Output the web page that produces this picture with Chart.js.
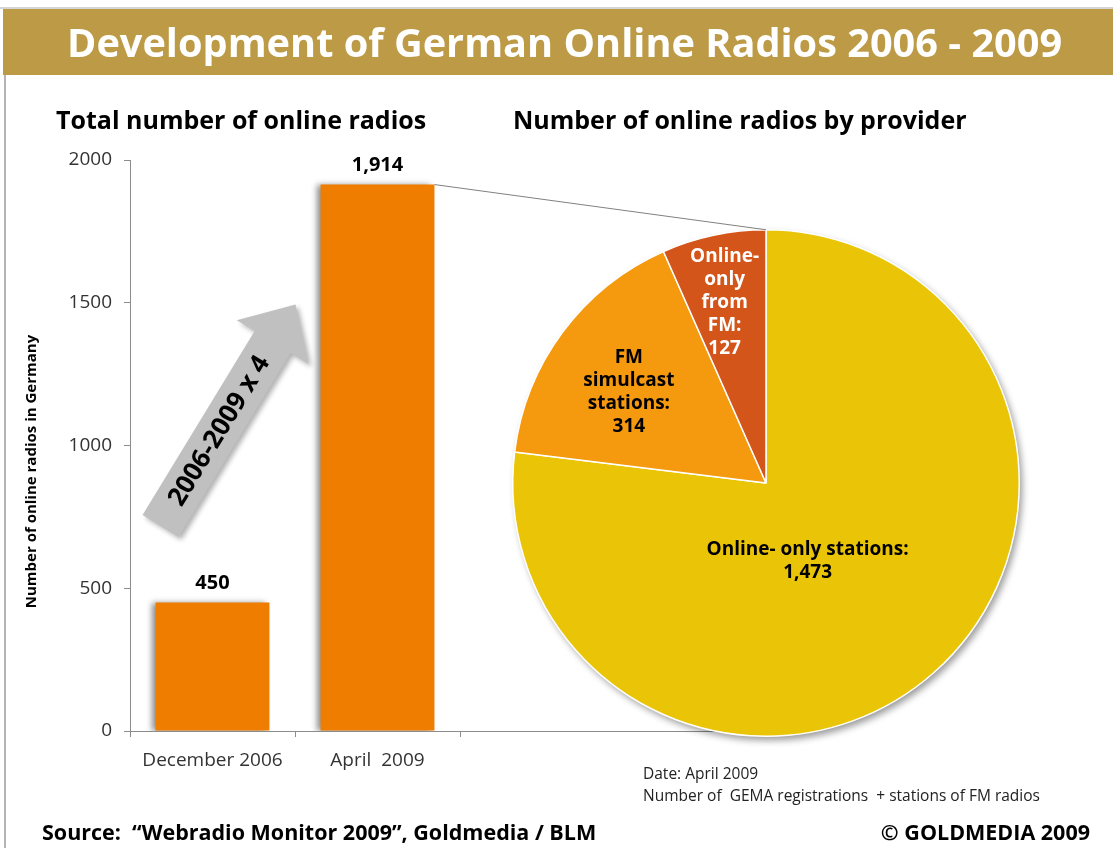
<!DOCTYPE html>
<html>
<head>
<meta charset="utf-8">
<script src="https://cdn.jsdelivr.net/npm/chart.js@4.4.1/dist/chart.umd.min.js"></script>
<style>
  body { margin: 0; background: #fff; font-family: "Open Sans", sans-serif; }
  #wrap { position: relative; width: 1113px; height: 848px; overflow: hidden; }
  canvas { position: absolute; left: 0; top: 0; }
  .txt { position: absolute; white-space: pre; z-index: 5; color: #000; }
  #topline { position: absolute; left: 0; top: 7px; width: 1113px; height: 2px; background: #d4d4d4; }
  #banner { position: absolute; left: 3px; top: 9px; width: 1110px; height: 66px; background: #bd9a45; }
  #title { left: 67px; top: 14px; font-size: 39.7px; font-weight: 700; color: #fff; line-height: 56px; }
  #frame { position: absolute; left: 4px; top: 75px; width: 2px; height: 773px; background: #b4b4b4; }
  .sub { font-size: 25px; font-weight: 700; line-height: 30px; top: 104px; }
  .note { font-size: 15.5px; line-height: 20px; color: #222; left: 643px; }
  .foot { font-size: 21.5px; font-weight: 700; line-height: 26px; top: 819px; }
</style>
</head>
<body>
<div id="wrap">
  <div id="topline"></div>
  <div id="banner"></div>
  <div id="frame"></div>
  <div class="txt" id="title">Development of German Online Radios 2006 - 2009</div>
  <div class="txt sub" style="left:56px">Total number of online radios</div>
  <div class="txt sub" style="left:513px">Number of online radios by provider</div>
  <div class="txt note" style="top:763px">Date: April 2009</div>
  <div class="txt note" style="top:785px">Number of  GEMA registrations  + stations of FM radios</div>
  <div class="txt foot" style="left:42px">Source:  “Webradio Monitor 2009”, Goldmedia / BLM</div>
  <div class="txt foot" style="right:23px">© GOLDMEDIA 2009</div>
  <canvas id="barChart" width="1113" height="848"></canvas>
  <canvas id="pieChart" width="1113" height="848"></canvas>
</div>
<script>
// values
const categories = ["December 2006", "April  2009"]
const totalRadios = [450, 1914]
const yTicks = [0, 500, 1000, 1500, 2000]
const yTitle = "Number of online radios in Germany"
const providers = ["Online- only stations", "FM simulcast stations", "Online-only from FM"]
const providerValues = [1473, 314, 127]
const providerLabels = [
  ["Online- only stations:", "1,473"],
  ["FM", "simulcast", "stations:", "314"],
  ["Online-", "only", "from", "FM:", "127"],
]
const growthLabel = "2006-2009 x 4"

const FONT = "'Open Sans', sans-serif"
const axisColor = "#8c8c8c"

// shadow on the bars + value labels + the grey growth arrow
const barDecor = {
  id: "barDecor",
  beforeDatasetsDraw(chart) {
    const ctx = chart.ctx
    ctx.save()
    ctx.shadowColor = "rgba(0,0,0,0.45)"
    ctx.shadowBlur = 6
    ctx.shadowOffsetX = -4
    ctx.shadowOffsetY = 0
  },
  afterDatasetsDraw(chart) {
    const ctx = chart.ctx
    ctx.restore()
    const meta = chart.getDatasetMeta(0)
    const area = chart.chartArea
    ctx.save()
    ctx.font = "bold 20px " + FONT
    ctx.fillStyle = "#000"
    ctx.textAlign = "center"
    ctx.textBaseline = "middle"
    meta.data.forEach((bar, i) => {
      ctx.fillText(totalRadios[i].toLocaleString("en-US"), bar.x, bar.y - 19)
    })
    ctx.restore()

    // y axis title
    ctx.save()
    ctx.translate(32, (area.top + area.bottom) / 2 + 26)
    ctx.rotate(-Math.PI / 2)
    ctx.font = "bold 15px " + FONT
    ctx.fillStyle = "#000"
    ctx.textAlign = "center"
    ctx.textBaseline = "middle"
    ctx.fillText(yTitle, 0, 0)
    ctx.restore()

    // x axis line runs on under the pie
    ctx.save()
    ctx.strokeStyle = axisColor
    ctx.lineWidth = 1
    ctx.beginPath()
    ctx.moveTo(area.right, area.bottom + 0.5)
    ctx.lineTo(760, area.bottom + 0.5)
    ctx.stroke()
    ctx.restore()

    // arrow
    const ys = chart.scales.y
    const b0 = meta.data[0], b1 = meta.data[1]
    const tx = b0.x - 52, ty = ys.getPixelForValue(718)
    const hx = b1.x - 82, hy = ys.getPixelForValue(1494)
    const ang = Math.atan2(hy - ty, hx - tx)
    const len = Math.hypot(hx - tx, hy - ty)
    const shaft = 21, head = 42, headLen = 44
    ctx.save()
    ctx.translate(tx, ty)
    ctx.rotate(ang)
    ctx.shadowColor = "rgba(0,0,0,0.3)"
    ctx.shadowBlur = 5
    ctx.shadowOffsetX = 3
    ctx.shadowOffsetY = 3
    ctx.fillStyle = "#c0c0c0"
    ctx.beginPath()
    ctx.moveTo(0, -shaft)
    ctx.lineTo(len - headLen, -shaft)
    ctx.lineTo(len - headLen, -head)
    ctx.lineTo(len, 0)
    ctx.lineTo(len - headLen, head)
    ctx.lineTo(len - headLen, shaft)
    ctx.lineTo(0, shaft)
    ctx.closePath()
    ctx.fill()
    ctx.shadowColor = "transparent"
    ctx.font = "bold 26px " + FONT
    ctx.fillStyle = "#000"
    ctx.textAlign = "center"
    ctx.textBaseline = "middle"
    ctx.fillText(growthLabel, (len - headLen) / 2 + 4, 1)
    ctx.restore()
  },
}

const barChart = new Chart(document.getElementById("barChart"), {
  type: "bar",
  data: {
    labels: categories,
    datasets: [
      {
        data: totalRadios,
        backgroundColor: "#ee7d00",
        borderWidth: 0,
        categoryPercentage: 1,
        barPercentage: 0.69,
      },
    ],
  },
  options: {
    responsive: false,
    animation: false,
    events: [],
    layout: { padding: { left: 20, right: 653, top: 160, bottom: 77 } },
    plugins: { legend: { display: false }, tooltip: { enabled: false } },
    scales: {
      x: {
        grid: { offset: true, drawOnChartArea: false, tickLength: 6, color: axisColor },
        border: { color: axisColor },
        ticks: { color: "#333", font: { family: FONT, size: 19 }, padding: 12 },
        afterFit: (s) => { s.height = 40 },
      },
      y: {
        min: 0,
        max: 2000,
        grid: { drawOnChartArea: false, tickLength: 6, color: axisColor },
        border: { color: axisColor },
        ticks: {
          color: "#333",
          font: { family: FONT, size: 19 },
          padding: 12,
          callback: (v) => String(v),
        },
        afterBuildTicks: (s) => { s.ticks = yTicks.map((v) => ({ value: v })) },
        afterFit: (s) => { s.width = 110 },
      },
    },
  },
  plugins: [barDecor],
})

// pie shadow, slice labels and the connector from the big bar
const labelPos = [
  { frac: 0.35, shift: 13.5, color: "#000" },
  { frac: 0.65, shift: -3, color: "#000" },
  { frac: 0.73, shift: -1, color: "#fff" },
]

const pieDecor = {
  id: "pieDecor",
  beforeDatasetsDraw(chart) {
    const arc = chart.getDatasetMeta(0).data[0]
    const ctx = chart.ctx
    ctx.save()
    ctx.shadowColor = "rgba(0,0,0,0.4)"
    ctx.shadowBlur = 7
    ctx.shadowOffsetX = 3
    ctx.shadowOffsetY = 4
    ctx.fillStyle = "#ffffff"
    ctx.beginPath()
    ctx.arc(arc.x, arc.y, arc.outerRadius, 0, Math.PI * 2)
    ctx.fill()
    ctx.restore()
  },
  afterDatasetsDraw(chart) {
    const ctx = chart.ctx
    const meta = chart.getDatasetMeta(0)
    ctx.save()
    ctx.font = "bold 19px " + FONT
    ctx.textAlign = "center"
    ctx.textBaseline = "middle"
    meta.data.forEach((arc, i) => {
      const p = labelPos[i]
      const mid = (arc.startAngle + arc.endAngle) / 2 + (p.shift * Math.PI) / 180
      const r = p.frac * arc.outerRadius
      const cx = arc.x + Math.cos(mid) * r
      const cy = arc.y + Math.sin(mid) * r
      const lines = providerLabels[i]
      const lh = 23
      ctx.fillStyle = p.color
      lines.forEach((t, k) => {
        ctx.fillText(t, cx, cy + (k - (lines.length - 1) / 2) * lh)
      })
    })
    ctx.restore()

    const big = barChart.getDatasetMeta(0).data[1]
    const arc = meta.data[0]
    ctx.save()
    ctx.strokeStyle = "#808080"
    ctx.lineWidth = 1
    ctx.beginPath()
    ctx.moveTo(big.x + big.width / 2, big.y)
    ctx.lineTo(arc.x, arc.y - arc.outerRadius)
    ctx.stroke()
    ctx.restore()
  },
}

new Chart(document.getElementById("pieChart"), {
  type: "pie",
  data: {
    labels: providers,
    datasets: [
      {
        data: providerValues,
        backgroundColor: ["#eac507", "#f5990e", "#d3551a"],
        borderColor: "#ffffff",
        borderWidth: 1.5,
      },
    ],
  },
  options: {
    responsive: false,
    animation: false,
    events: [],
    layout: { padding: { left: 512, right: 93, top: 229, bottom: 111 } },
    plugins: { legend: { display: false }, tooltip: { enabled: false } },
  },
  plugins: [pieDecor],
})
</script>
</body>
</html>
